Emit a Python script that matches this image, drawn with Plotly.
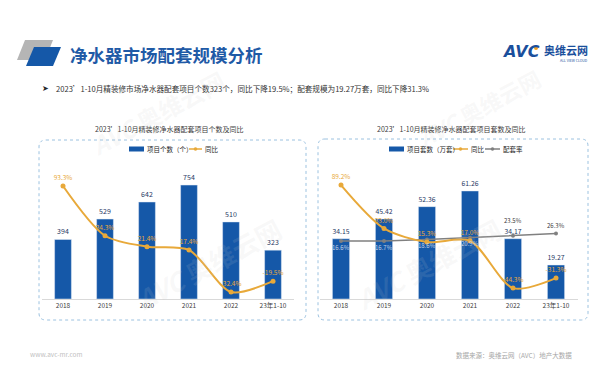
import plotly.graph_objects as go

# ---------------- data ----------------
years = ["2018", "2019", "2020", "2021", "2022", "23年1-10"]
proj_count = [394, 529, 642, 754, 510, 323]
proj_count_yoy = [93.3, 34.3, 21.4, 17.4, -32.4, -19.5]
proj_sets = [34.15, 45.42, 52.36, 61.26, 34.17, 19.27]
proj_sets_yoy = [89.2, 33.0, 15.3, 17.0, -44.3, -31.3]
match_rate = [16.6, 16.7, 18.6, 20.9, 23.5, 26.3]

W, H = 600, 373
FONT = "Noto Sans CJK SC"
BLUE = "#1558a8"
ORANGE = "#e8a93a"
GRAY = "#808080"
LABEL = "#1f3864"


def px(x):
    return x / W


def py(y):
    return 1 - y / H


fig = go.Figure()

# ---------------- left chart ----------------
fig.add_trace(go.Bar(
    x=years, y=proj_count, name="项目个数（个）", marker_color=BLUE, width=0.4,
    text=[str(v) for v in proj_count], textposition="outside",
    textfont=dict(size=7, color=LABEL, family=FONT), cliponaxis=False,
    xaxis="x", yaxis="y", showlegend=False))
fig.add_trace(go.Scatter(
    x=years, y=proj_count_yoy, name="同比", mode="lines+markers+text",
    line=dict(color=ORANGE, width=2, shape="spline", smoothing=0.8),
    marker=dict(size=5, color=ORANGE),
    text=[f"{v:.1f}%" for v in proj_count_yoy], textposition="top center",
    textfont=dict(size=6.5, color=ORANGE, family=FONT), cliponaxis=False,
    xaxis="x", yaxis="y2", showlegend=False))

# ---------------- right chart ----------------
fig.add_trace(go.Bar(
    x=years, y=proj_sets, name="项目套数（万套）", marker_color=BLUE, width=0.4,
    text=[f"{v:.2f}" for v in proj_sets], textposition="outside",
    textfont=dict(size=7, color=LABEL, family=FONT), cliponaxis=False,
    xaxis="x3", yaxis="y3", showlegend=False))
fig.add_trace(go.Scatter(
    x=years, y=match_rate, name="配套率", mode="lines+markers",
    line=dict(color=GRAY, width=1.5),
    marker=dict(size=4, color=GRAY), cliponaxis=False,
    xaxis="x3", yaxis="y4", showlegend=False))
fig.add_trace(go.Scatter(
    x=years, y=proj_sets_yoy, name="同比", mode="lines+markers+text",
    line=dict(color=ORANGE, width=2, shape="spline", smoothing=0.8),
    marker=dict(size=5, color=ORANGE),
    text=[f"{v:.1f}%" for v in proj_sets_yoy], textposition="top center",
    textfont=dict(size=6.5, color=ORANGE, family=FONT), cliponaxis=False,
    xaxis="x3", yaxis="y4", showlegend=False))

yb, yt = 291, 155
ydom = [py(yb), py(yt)]
xaxis_common = dict(
    type="category", showgrid=False, zeroline=False, showline=True,
    linecolor="#d9d9d9", linewidth=1, ticks="", range=[-0.5, 5.5],
    tickfont=dict(size=6.5, color="#404040", family=FONT), fixedrange=True)
yaxis_common = dict(visible=False, showgrid=False, zeroline=False, fixedrange=True)

fig.update_layout(
    width=W, height=H, margin=dict(l=0, r=0, t=0, b=0),
    paper_bgcolor="white", plot_bgcolor="rgba(0,0,0,0)",
    font=dict(family=FONT),
    xaxis=dict(domain=[px(34), px(286)], anchor="y", **xaxis_common),
    yaxis=dict(domain=ydom, range=[0, 900], anchor="x", **yaxis_common),
    yaxis2=dict(range=[-40.7, 120.6], overlaying="y", anchor="x", **yaxis_common),
    xaxis3=dict(domain=[px(311.5), px(569.5)], anchor="y3", **xaxis_common),
    yaxis3=dict(domain=ydom, range=[0, 77.1], anchor="x3", **yaxis_common),
    yaxis4=dict(range=[-58.4, 117.8], overlaying="y3", anchor="x3", **yaxis_common),
    bargap=0.6,
)

shapes = []
ann = []

# 配套率 labels, placed from the data through the axes (x = category index)
for i, v in enumerate(match_rate):
    shift = 15 if i == 4 else (8 if i == 5 else -6)
    ann.append(dict(x=i, y=v, xref="x3", yref="y4", showarrow=False,
                    yshift=shift, text=f"{v:.1f}%",
                    font=dict(size=6, color="#404040" if i >= 4 else "#c8d4e6",
                              family=FONT)))


def rounded_box(x0, y0, x1, y1, r, color):
    p = (f"M {px(x0 + r)},{py(y0)} L {px(x1 - r)},{py(y0)} "
         f"Q {px(x1)},{py(y0)} {px(x1)},{py(y0 + r)} "
         f"L {px(x1)},{py(y1 - r)} Q {px(x1)},{py(y1)} {px(x1 - r)},{py(y1)} "
         f"L {px(x0 + r)},{py(y1)} Q {px(x0)},{py(y1)} {px(x0)},{py(y1 - r)} "
         f"L {px(x0)},{py(y0 + r)} Q {px(x0)},{py(y0)} {px(x0 + r)},{py(y0)} Z")
    shapes.append(dict(type="path", xref="paper", yref="paper", path=p,
                       line=dict(color=color, width=1, dash="dot"), layer="below"))


rounded_box(31, 132, 298, 312, 7, "#9cc2e0")
rounded_box(310, 131, 580, 312, 7, "#9cc2e0")


def poly(points, color):
    p = "M " + " L ".join(f"{px(x)},{py(y)}" for x, y in points) + " Z"
    shapes.append(dict(type="path", xref="paper", yref="paper", path=p,
                       line=dict(width=0), fillcolor=color, layer="above"))


# title icon
poly([(17, 32), (45, 32), (37, 52), (9, 52)], "#b5b5b5")
poly([(26, 39), (53, 39), (45, 58), (18, 58)], "#1558a8")

# title
ann.append(dict(x=px(60), y=py(47), xref="paper", yref="paper", xanchor="left",
                yanchor="middle", showarrow=False,
                text="<b>净水器市场配套规模分析</b>",
                font=dict(size=17.5, color="#1f5aa6", family=FONT)))

# logo
ann.append(dict(x=px(492), y=py(44), xref="paper", yref="paper", xanchor="left",
                yanchor="middle", showarrow=False, text="<b><i>AVC</i></b>",
                font=dict(size=16, color="#1a4f9c", family="DejaVu Sans")))
shapes.append(dict(type="circle", xref="paper", yref="paper",
                   x0=px(526), x1=px(530), y0=py(42), y1=py(38),
                   fillcolor="#f0a020", line=dict(width=0)))
ann.append(dict(x=px(534), y=py(42), xref="paper", yref="paper", xanchor="left",
                yanchor="middle", showarrow=False, text="<b>奥维云网</b>",
                font=dict(size=11, color="#1a4f9c", family=FONT)))
ann.append(dict(x=px(566), y=py(52.5), xref="paper", yref="paper", xanchor="center",
                yanchor="middle", showarrow=False, text="ALL VIEW CLOUD",
                font=dict(size=3.5, color="#1a4f9c", family=FONT)))

# bullet
ann.append(dict(x=px(32), y=py(80), xref="paper", yref="paper", xanchor="left",
                yanchor="middle", showarrow=False, text="➤",
                font=dict(size=8, color="#262626", family="DejaVu Sans")))
ann.append(dict(x=px(46), y=py(80), xref="paper", yref="paper", xanchor="left",
                yanchor="middle", showarrow=False,
                text="2023’1-10月精装修市场净水器配套项目个数323个，同比下降19.5%；配套规模为19.27万套，同比下降31.3%",
                font=dict(size=7.6, color="#333333", family=FONT)))

# chart titles
ann.append(dict(x=px(161), y=py(121), xref="paper", yref="paper", xanchor="center",
                yanchor="middle", showarrow=False,
                text="2023’1-10月精装修净水器配套项目个数及同比",
                font=dict(size=7, color="#404040", family=FONT)))
ann.append(dict(x=px(443), y=py(121), xref="paper", yref="paper", xanchor="center",
                yanchor="middle", showarrow=False,
                text="2023’1-10月精装修净水器配套项目套数及同比",
                font=dict(size=7, color="#404040", family=FONT)))


# legends (manual)
def leg_bar(x0, x1, y):
    shapes.append(dict(type="rect", xref="paper", yref="paper", x0=px(x0), x1=px(x1),
                       y0=py(y + 2.5), y1=py(y - 2.5), fillcolor=BLUE, line=dict(width=0)))


def leg_line(x0, x1, y, color):
    shapes.append(dict(type="line", xref="paper", yref="paper", x0=px(x0), x1=px(x1),
                       y0=py(y), y1=py(y), line=dict(color=color, width=1.5)))
    xm = (x0 + x1) / 2
    shapes.append(dict(type="circle", xref="paper", yref="paper", x0=px(xm - 1.8),
                       x1=px(xm + 1.8), y0=py(y + 1.8), y1=py(y - 1.8),
                       fillcolor=color, line=dict(width=0)))


def leg_text(x, y, t):
    ann.append(dict(x=px(x), y=py(y), xref="paper", yref="paper", xanchor="left",
                    yanchor="middle", showarrow=False, text=t,
                    font=dict(size=6.5, color="#262626", family=FONT)))


leg_bar(121, 136, 141)
leg_text(137, 141, "项目个数（个）")
leg_line(181, 194, 141, ORANGE)
leg_text(195, 141, "同比")

leg_bar(381, 396, 141)
leg_text(397, 141, "项目套数（万套）")
leg_line(445, 460, 141, ORANGE)
leg_text(461, 141, "同比")
leg_line(477, 492, 141, GRAY)
leg_text(493, 141, "配套率")

# footer
ann.append(dict(x=px(20), y=py(346), xref="paper", yref="paper", xanchor="left",
                yanchor="middle", showarrow=False, text="www.avc-mr.com",
                font=dict(size=6.5, color="#bfbfbf", family=FONT)))
ann.append(dict(x=px(566), y=py(347), xref="paper", yref="paper", xanchor="right",
                yanchor="middle", showarrow=False, text="数据来源：奥维云网（AVC）地产大数据",
                font=dict(size=6.5, color="#a6a6a6", family=FONT)))
ann.append(dict(x=px(589), y=py(347), xref="paper", yref="paper", xanchor="center",
                yanchor="middle", showarrow=False, text="3",
                font=dict(size=6.5, color="#a6a6a6", family=FONT)))

# watermarks
for (x, y, s) in [(150, 105, 24), (200, 255, 26), (420, 255, 26), (470, 100, 22)]:
    ann.append(dict(x=px(x), y=py(y), xref="paper", yref="paper", xanchor="center",
                    yanchor="middle", showarrow=False, textangle=-28,
                    text="<b><i>AVC</i> 奥维云网</b>",
                    font=dict(size=s, color="rgba(200,200,200,0.13)", family=FONT)))

fig.update_layout(shapes=shapes, annotations=ann)
fig.write_html("out.html")
